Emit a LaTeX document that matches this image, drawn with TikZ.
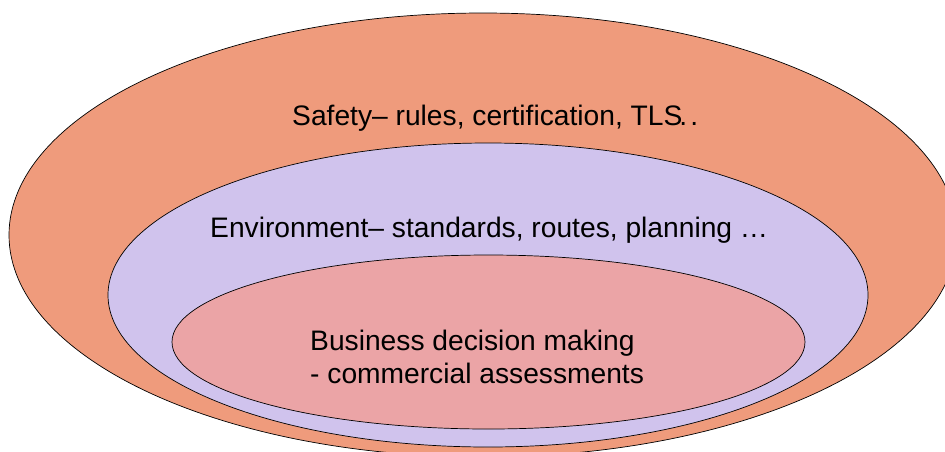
\documentclass[tikz,border=0pt]{standalone}
\usepackage{fontspec}
\setmainfont{Liberation Sans}
\usepackage{xcolor}
\usepackage{tikz}

\definecolor{safetyfill}{RGB}{239,155,124}
\definecolor{envfill}{RGB}{208,195,237}
\definecolor{businessfill}{RGB}{235,164,166}

\begin{document}
\begin{tikzpicture}[
            x=1pt, y=-1pt,
            ring/.style={draw=black, line width=0.7pt},
            every node/.style={font=\fontsize{28.2}{33}\selectfont, inner sep=0pt, anchor=base west}
        ]
        \useasboundingbox (0,0) rectangle (945,451);
        \clip (0,0) rectangle (945,451);
        % Outer ring: safety
        \draw[ring, fill=safetyfill] (483,235) ellipse [x radius=474pt, y radius=222pt];
        % Middle ring: environment
        \draw[ring, fill=envfill] (488,295) ellipse [x radius=380pt, y radius=152pt];
        % Inner ring: business
        \draw[ring, fill=businessfill] (488.5,342) ellipse [x radius=316.5pt, y radius=87pt];
        % Labels
        \node (safety) at (292,125) {Safety– rules, certification, TLS\kern-3pt.\kern3pt.};
        \node (environment) at (210,237) {Environment– standards, routes, planning …};
        \node (business) at (310,350) {Business decision making};
        \node (commercial) at (310,383) {- commercial assessments};
    \end{tikzpicture}
\end{document}
